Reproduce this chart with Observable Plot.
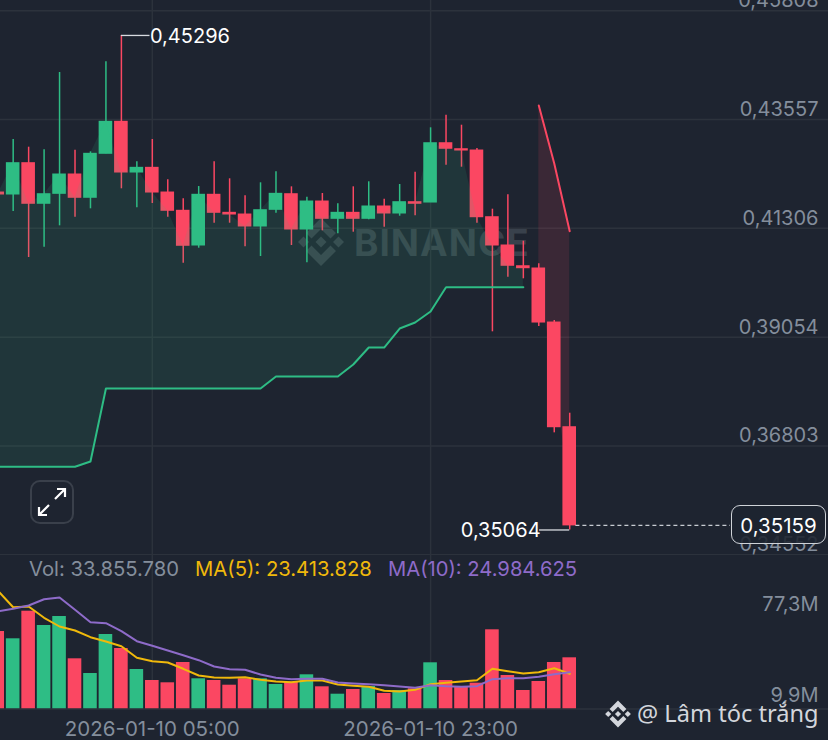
<!DOCTYPE html>
<html>
<head>
<meta charset="utf-8">
<script src="https://cdn.jsdelivr.net/npm/d3@7"></script>
<script src="https://cdn.jsdelivr.net/npm/@observablehq/plot@0.6"></script>
<style>
html,body{margin:0;padding:0;background:#1e2430;}
#wrap{position:relative;width:828px;height:740px;overflow:hidden;background:#1e2430;font-family:Inter,sans-serif;}
#charts{position:absolute;left:0;top:0;z-index:2;}
#charts svg{display:block;}
.abs{position:absolute;white-space:nowrap;line-height:1;}
</style>
</head>
<body>
<div id="wrap">
  <svg class="abs" id="mark" style="left:296px;top:217px;z-index:1" width="240" height="50" viewBox="0 0 240 50">
    <g fill="#39414c">
      <path d="M25 1L40 16 34.5 21.5 25 12 15.5 21.5 10 16Z"/><path d="M25 49L40 34 34.5 28.5 25 38 15.5 28.5 10 34Z"/><path d="M2 25l5.5-5.5 5.5 5.5-5.5 5.5z"/><path d="M37 25l5.5-5.5 5.5 5.5-5.5 5.5z"/><path d="M25 19.5l5.5 5.5-5.5 5.5-5.5-5.5z"/>
    </g>
    <text x="58" y="39" fill="#39414c" font-family="Inter,sans-serif" font-weight="700" font-size="37" letter-spacing="1">BINANCE</text>
  </svg>
  <div id="charts"></div>
  <div class="abs" style="left:29px;top:559px;font-size:20.25px;color:#848e9c;z-index:3">Vol: 33.855.780</div>
  <div class="abs" style="left:195px;top:559px;font-size:20.25px;color:#f0b90b;z-index:3">MA(5): 23.413.828</div>
  <div class="abs" style="left:388px;top:559px;font-size:20.2px;color:#8e6bc9;z-index:3">MA(10): 24.984.625</div>
  <div class="abs" style="left:30px;top:480px;width:40px;height:40px;border:2px solid #3a404b;border-radius:10px;z-index:3">
    <svg width="40" height="40" viewBox="0 0 40 40"><g stroke="#fff" stroke-width="2.2" fill="none"><path d="M23 17L33 7M25 7h8v8"/><path d="M17 23L7 33M7 25v8h8"/></g></svg>
  </div>
  <div class="abs" style="left:731px;top:505px;width:93px;height:37px;border:1.5px solid #cfd3d8;border-radius:9px;background:rgba(30,36,48,.88);color:#fff;font-size:20.5px;text-align:center;line-height:40px;z-index:3">0,35159</div>
  <svg class="abs" style="left:604px;top:699.5px;z-index:3" width="28" height="28" viewBox="0 0 50 50">
    <g fill="#d3d6dc"><path d="M25 1L40 16 34.5 21.5 25 12 15.5 21.5 10 16Z"/><path d="M25 49L40 34 34.5 28.5 25 38 15.5 28.5 10 34Z"/><path d="M2 25l5.5-5.5 5.5 5.5-5.5 5.5z"/><path d="M37 25l5.5-5.5 5.5 5.5-5.5 5.5z"/><path d="M25 19.5l5.5 5.5-5.5 5.5-5.5-5.5z"/></g>
  </svg>
  <div class="abs" style="left:637px;top:702px;font-size:23.6px;color:#d3d6dc;z-index:3;font-family:'Noto Sans',sans-serif">@ Lâm tóc trắng</div>
</div>
<script>
const index = d3.range(-1, 37);
const opens = [.42046,.42005,.42653,.41813,.42019,.42419,.41937,.42847,.43509,.42460,.42557,.42046,.41668,.40950,.41999,.41626,.41591,.41343,.41688,.42011,.41281,.41860,.41502,.41626,.41502,.41757,.41612,.41846,.41839,.43066,.42942,.42915,.41535,.40950,.40521,.40474,.39356,.37190];
const highs = [.42046,.43143,.42984,.42930,.44529,.42922,.42888,.44751,.45296,.42682,.43143,.42309,.41916,.42170,.42682,.42330,.41978,.42247,.42475,.42164,.41949,.42026,.41813,.42164,.42268,.41908,.42212,.42466,.43385,.43646,.43439,.42957,.41701,.41999,.41039,.40571,.39398,.37480];
const lows = [.42005,.41653,.40701,.40914,.41357,.41535,.41709,.42847,.42123,.41730,.41819,.41535,.40583,.40894,.41411,.41411,.40923,.40722,.41618,.40950,.40592,.41254,.41192,.41225,.41482,.41328,.41556,.41564,.41839,.42611,.42570,.41411,.39164,.40294,.40261,.39274,.37074,.35064];
const closes = [.42005,.42653,.41813,.42011,.42419,.41937,.42847,.43509,.42460,.42557,.42046,.41668,.40944,.41999,.41626,.41591,.41343,.41680,.42019,.41281,.41860,.41502,.41626,.41502,.41757,.41612,.41846,.41813,.43066,.42951,.42915,.41535,.40950,.40530,.40480,.39356,.37190,.35159];
const volumes = [57.40,52.00,72.44,61.85,68.51,37.18,26.29,55.18,44.81,29.26,21.11,19.41,34.44,22.37,21.11,17.63,22.37,22.37,18.15,19.85,25.33,16.44,10.96,14.44,16.67,11.48,13.70,14.96,34.22,21.11,16.67,19.11,58.66,24.81,13.70,20.37,34.44,37.92];
const ma5 = [87.77,75.40,75.92,67.55,61.11,58.14,53.18,50.00,46.52,37.92,35.41,34.44,29.78,24.81,23.33,23.11,23.55,21.63,20.37,19.85,21.11,21.11,18.15,17.18,16.44,13.48,12.96,14.22,18.37,19.41,20.37,21.33,29.78,28.00,26.29,27.26,30.22,26.07];
const ma10 = [72.22,74.22,76.66,81.33,82.59,73.48,64.29,63.55,57.63,50.22,46.81,43.33,39.85,36.15,31.48,29.48,29.04,25.55,23.11,22.07,22.37,22.37,19.63,18.89,18.37,17.63,16.67,15.70,17.63,16.89,16.44,16.89,22.07,22.81,22.81,23.85,25.78,27.26];
const trailIndex = d3.range(-1, 34);
const trail = [.36371,.36371,.36371,.36371,.36371,.36371,.36480,.37991,.37991,.37991,.37991,.37991,.37991,.37991,.37991,.37991,.37991,.37991,.38239,.38239,.38239,.38239,.38239,.38487,.38839,.38839,.39232,.39356,.39584,.40087,.40087,.40087,.40087,.40087,.40087];
const stopIndex = [34, 35, 36];
const stopLine = [.43846, .42646, .41245];
const stopFloor = [.40370, .38156, .35963];
const priceTicks = [.34552, .36803, .39054, .41306, .43557, .45808];
const volumeTicks = [9.9, 77.3];
const dateTicks = [9, 27];
const dateLabels = ["2026-01-10 05:00", "2026-01-10 23:00"];
const highNote = {from: 7, to: 8.85, price: .45296, label: "0,45296"};
const lowNote = {from: 36, to: 34.05, price: .35064, label: "0,35064"};
const lastPrice = {from: 36.4, to: 46.4, price: .35159};

const GREEN = "#2ebd85", RED = "#fb4762", GRID = "#2c323c", GRAY = "#848e9c";
const rows = index.map((x, k) => ({x, open: opens[k], high: highs[k], low: lows[k], close: closes[k], volume: volumes[k], ma5: ma5[k], ma10: ma10[k], color: closes[k] >= opens[k] && x !== -1 ? GREEN : RED}));
const trailRows = trailIndex.map((x, k) => ({x, trail: trail[k], close: closes[index.indexOf(x)]}));
const stopRows = stopIndex.map((x, k) => ({x, stop: stopLine[k], floor: stopFloor[k]}));
const xDomain = [-0.82, 52.74];
const font = "Inter, sans-serif";
const comma = (v, n) => v.toFixed(n).replace(".", ",");

const priceChart = Plot.plot({
  width: 828, height: 555, marginTop: 0, marginBottom: 0, marginLeft: 0, marginRight: 0,
  style: {background: "transparent", fontFamily: font, color: GRAY},
  x: {domain: xDomain, axis: null},
  y: {domain: [0.34536, 0.46019]},
  marks: [
    Plot.gridY(priceTicks, {stroke: GRID, strokeOpacity: 1, strokeWidth: 1.5}),
    Plot.gridX(dateTicks, {stroke: GRID, strokeOpacity: 1, strokeWidth: 1.5}),
    Plot.areaY(stopRows, {x: "x", y1: "stop", y2: "floor", fill: RED, fillOpacity: 0.13}),
    Plot.ruleX(rows, {x: "x", y1: "low", y2: "high", stroke: "color", strokeWidth: 1.5, clip: true}),
    Plot.rect(rows, {x1: d => d.x - 0.44, x2: d => d.x + 0.44, y1: d => Math.min(d.open, d.close), y2: d => Math.max(d.open, d.close), fill: "color", clip: true, insetTop: -0.5, insetBottom: -0.5}),
    Plot.areaY(trailRows, {x: "x", y1: "trail", y2: "close", fill: GREEN, fillOpacity: 0.12, clip: true}),
    Plot.line(trailRows, {x: "x", y: "trail", stroke: GREEN, strokeWidth: 2, clip: true}),
    Plot.line(stopRows, {x: "x", y: "stop", stroke: RED, strokeWidth: 2}),
    Plot.axisY(priceTicks, {anchor: "right", tickSize: 0, tickPadding: 0, textAnchor: "end", dx: -10, dy: -10, fontSize: 20, fontVariant: "normal", tickFormat: d => comma(d, 5), label: null, fill: GRAY}),
    Plot.ruleY([highNote], {x1: "from", x2: "to", y: "price", stroke: "#d8dbe0", strokeWidth: 1.3}),
    Plot.text([highNote], {x: "to", y: "price", text: "label", textAnchor: "start", fontSize: 20, dy: 1, fill: "#fff"}),
    Plot.ruleY([lowNote], {x1: "from", x2: "to", y: "price", stroke: "#d8dbe0", strokeWidth: 1.3}),
    Plot.text([lowNote], {x: "to", y: "price", text: "label", textAnchor: "end", fontSize: 20, dy: 1, dx: 1, fill: "#fff"}),
    Plot.ruleY([lastPrice], {x1: "from", x2: "to", y: "price", stroke: "#c8ccd2", strokeWidth: 1.3, strokeDasharray: "4,3"})
  ]
});

const volumeChart = Plot.plot({
  width: 828, height: 185, marginTop: 0, marginBottom: 31.5, marginLeft: 0, marginRight: 0,
  style: {background: "transparent", fontFamily: font, color: GRAY},
  x: {domain: xDomain},
  y: {domain: [0, 113.7]},
  marks: [
    Plot.gridX(dateTicks, {stroke: GRID, strokeOpacity: 1, strokeWidth: 1.5}),
    Plot.ruleY([0], {stroke: GRID, strokeWidth: 1.5}),
    Plot.rectY(rows, {x1: d => d.x - 0.44, x2: d => d.x + 0.44, y1: 0, y2: "volume", fill: "color", clip: true}),
    Plot.line(rows, {x: "x", y: "ma5", stroke: "#f0b90b", strokeWidth: 2, clip: true}),
    Plot.line(rows, {x: "x", y: "ma10", stroke: "#8e6bc9", strokeWidth: 2, clip: true}),
    Plot.axisX(dateTicks, {anchor: "bottom", tickSize: 0, tickPadding: 12, fontSize: 20.5, fontVariant: "normal", tickFormat: d => dateLabels[dateTicks.indexOf(d)], label: null, fill: GRAY}),
    Plot.axisY(volumeTicks, {anchor: "right", tickSize: 0, tickPadding: 0, textAnchor: "end", dx: -10, fontSize: 20, fontVariant: "normal", tickFormat: d => comma(d, 1) + "M", label: null, fill: GRAY})
  ]
});

document.getElementById("charts").append(priceChart, volumeChart);
</script>
</body>
</html>
